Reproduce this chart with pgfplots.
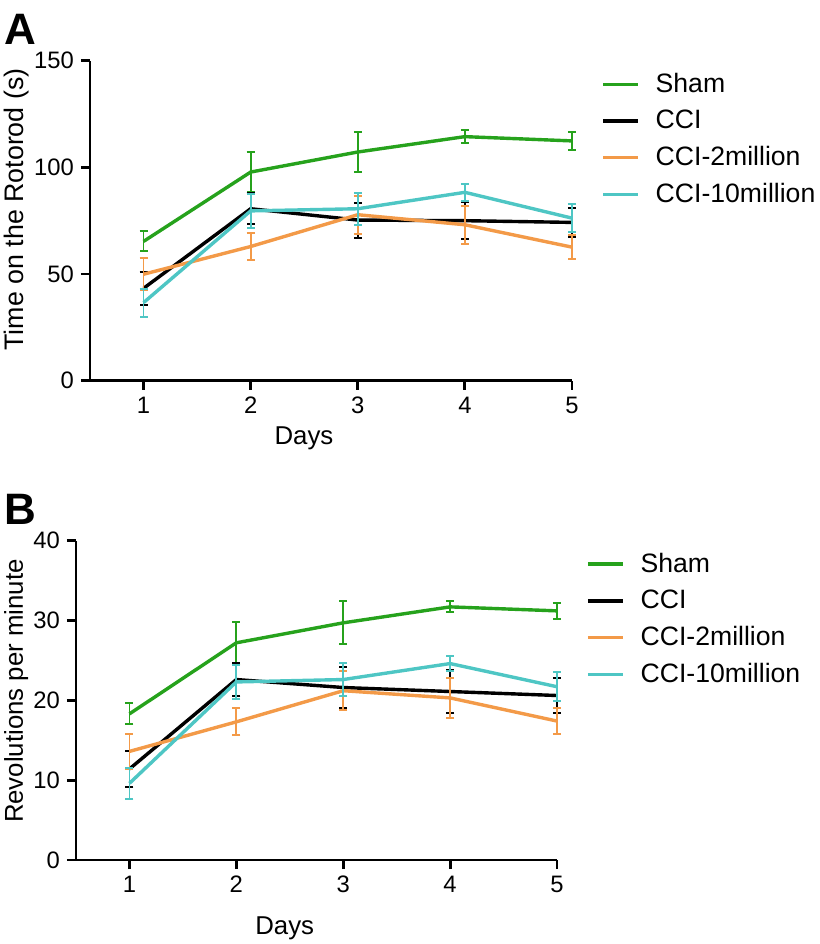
\documentclass[border=0pt]{standalone}
\usepackage{pgfplots}
\pgfplotsset{compat=1.18}
\usepackage{fontspec}
\setmainfont{Liberation Sans}
\definecolor{cgreen}{RGB}{38,162,28}
\definecolor{corange}{RGB}{243,154,72}
\definecolor{ccyan}{RGB}{78,198,196}
\pgfplotsset{
  myax/.style={
    scale only axis,
    axis x line*=bottom, axis y line*=left,
    axis line style={line width=1.4pt, -},
    xmin=0.5, xmax=5, xtick={1,2,3,4,5},
    tick align=outside, major tick length=4.5pt,
    every tick/.style={line width=1.4pt, black},
    tick label style={font=\fontsize{11.9}{14}\selectfont},
    label style={font=\fontsize{12.9}{15}\selectfont, inner sep=0pt},
    /pgf/number format/assume math mode=true,
    clip=false,
    legend cell align=left,
    legend image code/.code={\draw[#1, line width=1.7pt] (0pt,0pt) -- (17.5pt,0pt);},
    legend style={draw=none, fill=none, font=\fontsize{13.3}{15}\selectfont, anchor=north west, row sep=3.4pt, inner sep=0pt,
      /tikz/every odd column/.append style={column sep=6pt}},
  },
  errs/.style={line width=1.7pt, no markers,
    error bars/.cd, y dir=both, y explicit,
    error bar style={line width=0.9pt},
    error mark options={rotate=90, line width=1pt, mark size=2pt}},
}
\begin{document}
\begin{tikzpicture}
\path[use as bounding box] (0,0) rectangle (410pt,472pt);
\node[anchor=north west, inner sep=0pt, font=\bfseries\fontsize{22}{24}\selectfont] at (2pt,465pt) {A};
\node[anchor=north west, inner sep=0pt, font=\bfseries\fontsize{22}{24}\selectfont] at (2pt,225pt) {B};
\begin{axis}[myax, at={(45pt,281.65pt)}, anchor=south west,
  width=241pt, height=160pt,
  ymin=0, ymax=150, ytick={0,50,100,150},
  xlabel={Days}, ylabel={Time on the Rotorod (s)},
  xlabel style={at={(axis description cs:0.444,-0.2)}, anchor=base},
  ylabel style={at={(axis description cs:-0.180,0.535)}, anchor=north, font=\fontsize{13.4}{15}\selectfont},
  legend style={at={(axis description cs:1.06,0.975)}},
]
\addplot[cgreen, errs] table[x index=0, y index=1, y error index=2] {
1 65.3 4.7
2 97.8 9.4
3 107.2 9.5
4 114.4 3.0
5 112.4 4.2
};
\addlegendentry{Sham}
\addplot[black, errs] table[x index=0, y index=1, y error index=2] {
1 43.3 7.6
2 80.6 7.3
3 75.3 8.2
4 75.0 8.7
5 74.2 6.7
};
\addlegendentry{CCI}
\addplot[corange, errs] table[x index=0, y index=1, y error index=2] {
1 49.9 7.4
2 62.9 6.3
3 77.8 8.9
4 73.1 8.8
5 62.6 5.6
};
\addlegendentry{CCI-2million}
\addplot[ccyan, errs] table[x index=0, y index=1, y error index=2] {
1 36.6 6.6
2 79.6 8.0
3 80.6 7.4
4 88.3 3.9
5 76.2 6.4
};
\addlegendentry{CCI-10million}
\end{axis}
\begin{axis}[myax, at={(38pt,42pt)}, anchor=south west,
  width=240.5pt, height=159.7pt,
  ymin=0, ymax=40, ytick={0,10,20,30,40},
  xlabel={Days}, ylabel={Revolutions per minute},
  xlabel style={at={(axis description cs:0.434,-0.232)}, anchor=base},
  ylabel style={at={(axis description cs:-0.150,0.529)}, anchor=north},
  legend style={at={(axis description cs:1.06,0.975)}},
]
\addplot[cgreen, errs] table[x index=0, y index=1, y error index=2] {
1 18.3 1.3
2 27.2 2.6
3 29.7 2.7
4 31.7 0.7
5 31.2 1.0
};
\addlegendentry{Sham}
\addplot[black, errs] table[x index=0, y index=1, y error index=2] {
1 11.4 2.2
2 22.6 2.05
3 21.6 2.6
4 21.1 2.7
5 20.6 2.2
};
\addlegendentry{CCI}
\addplot[corange, errs] table[x index=0, y index=1, y error index=2] {
1 13.6 2.2
2 17.3 1.7
3 21.2 2.45
4 20.3 2.5
5 17.4 1.6
};
\addlegendentry{CCI-2million}
\addplot[ccyan, errs] table[x index=0, y index=1, y error index=2] {
1 9.6 1.9
2 22.3 2.15
3 22.6 2.1
4 24.6 0.95
5 21.7 1.8
};
\addlegendentry{CCI-10million}
\end{axis}
\end{tikzpicture}
\end{document}
